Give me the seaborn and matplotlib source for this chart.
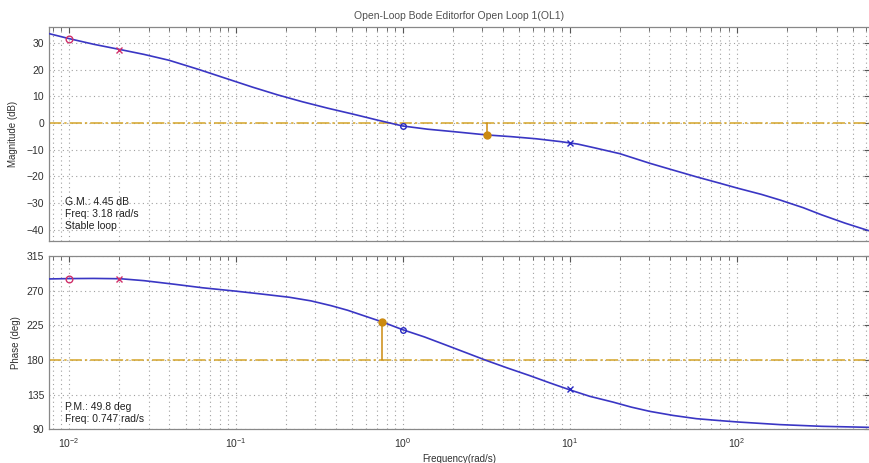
import numpy as np
import pandas as pd
import matplotlib
matplotlib.use("Agg")
import matplotlib.pyplot as plt
import matplotlib.ticker as mticker
import seaborn as sns

# Open-loop frequency response (rad/s, dB)
freq = [0.0075, 0.01, 0.0141, 0.0204, 0.0282, 0.0398, 0.0603, 0.0891, 0.126,
        0.178, 0.251, 0.355, 0.501, 0.708, 1.0, 1.41, 2.0, 3.18, 4.47, 6.31,
        8.91, 11.2, 14.1, 20.0, 30.2, 39.8, 57.5, 79.4, 102, 141, 182, 251,
        324, 447, 617]
mag_db = [33.7, 31.75, 29.6, 27.6, 25.8, 23.6, 20.1, 16.6, 13.5,
          10.6, 8.0, 5.6, 3.4, 1.1, -1.1, -2.3, -3.2, -4.45, -5.1, -5.9,
          -7.0, -7.9, -9.3, -11.5, -15.1, -17.3, -20.2, -22.6, -24.5, -26.8, -28.9, -31.8,
          -34.5, -37.6, -40.4]

# Open-loop phase (rad/s, deg)
phase_freq = [0.0075, 0.01, 0.0141, 0.0204, 0.0282, 0.0427, 0.0631, 0.1, 0.141,
              0.209, 0.282, 0.372, 0.468, 0.569, 0.747, 1.0, 1.35, 1.81, 2.40,
              3.18, 4.27, 5.74, 7.59, 9.86, 13.2, 18.2, 23.4, 30.2, 41.7, 57.5,
              79.4, 102, 182, 324, 617]
phase_deg = [285.2, 285.7, 285.9, 285.5, 283.0, 278.4, 273.8, 269.4, 265.8,
             261.5, 256.8, 250.6, 244.6, 238.4, 229.8, 219.4, 210.0, 199.6, 189.5,
             179.4, 169.5, 160.0, 150.5, 141.9, 133.0, 125.5, 119.0, 113.5, 108.2, 104.0,
             101.5, 99.7, 96.3, 94.1, 92.8]

# Compensator pole/zero markers
pz_freq = [0.01, 0.02, 1.0, 10.0]
pz_mag = [31.75, 27.6, -1.1, -7.4]
pz_phase = [285.7, 285.7, 219.4, 141.9]
pz_marker = ["o", "x", "o", "x"]
pz_color = ["#d0306a", "#d0306a", "#2828c0", "#2828c0"]
pz_size = [4.8, 4.2, 4.0, 4.2]

# Stability margins
gm_db = 4.45
gm_freq = 3.18
pm_deg = 49.8
pm_freq = 0.747

mag_ticks = [-40, -30, -20, -10, 0, 10, 20, 30]
phase_ticks = [90, 135, 180, 225, 270, 315]

sns.set_style("white")
plt.rcParams["font.family"] = ["Liberation Sans", "DejaVu Sans"]
plt.rcParams["mathtext.fontset"] = "custom"
plt.rcParams["mathtext.rm"] = "Liberation Sans"
plt.rcParams["mathtext.it"] = "Liberation Sans"

curve_color = "#3a36c4"
margin_color = "#cc8a10"
line_color = "#d4a428"
text_color = "#303030"
grid_kw = dict(color="#a0a0a0", linestyle=(0, (1, 3)), linewidth=0.8)

fig = plt.figure(figsize=(8.7, 4.63), dpi=100)
ax_m = fig.add_axes([0.0563, 0.4795, 0.9437, 0.4622])
ax_p = fig.add_axes([0.0563, 0.0724, 0.9437, 0.3747], sharex=ax_m)

df_m = pd.DataFrame({"freq": freq, "mag": mag_db})
df_p = pd.DataFrame({"freq": phase_freq, "phase": phase_deg})

sns.lineplot(data=df_m, x="freq", y="mag", ax=ax_m, color=curve_color, lw=1.2, zorder=3)
sns.lineplot(data=df_p, x="freq", y="phase", ax=ax_p, color=curve_color, lw=1.2, zorder=3)

for ax in (ax_m, ax_p):
    ax.set_xscale("log")
    ax.set_xlim(0.0076, 630)
    ax.set_xlabel("")
    ax.grid(True, which="major", axis="both", **grid_kw)
    ax.grid(True, which="minor", axis="x", **grid_kw)
    ax.tick_params(which="both", direction="in", top=True, right=True,
                   labelsize=7.5, colors="#555555", labelcolor=text_color)
    ax.tick_params(which="major", length=4)
    ax.tick_params(which="minor", length=3)
    for s in ax.spines.values():
        s.set_color("#888888")
        s.set_linewidth(0.9)

# reference lines: 0 dB and 180 deg
ax_m.axhline(0, color=line_color, lw=1.1, ls=(0, (8, 2, 1.5, 2)), zorder=2)
ax_p.axhline(180, color=line_color, lw=1.1, ls=(0, (8, 2, 1.5, 2)), zorder=2)

# gain margin stem and marker
ax_m.plot([gm_freq, gm_freq], [0, -gm_db], color=margin_color, lw=1.1, zorder=4)
ax_m.plot([gm_freq], [-gm_db], "o", color=margin_color, ms=5, zorder=5)
# phase margin stem and marker
ax_p.plot([pm_freq, pm_freq], [180, 180 + pm_deg], color=margin_color, lw=1.1, zorder=4)
ax_p.plot([pm_freq], [180 + pm_deg], "o", color=margin_color, ms=5, zorder=5)

for f, m, p, mk, c, sz in zip(pz_freq, pz_mag, pz_phase, pz_marker, pz_color, pz_size):
    kw = dict(marker=mk, ms=sz, mew=1.0, ls="none", zorder=6)
    if mk == "o":
        kw.update(mfc="none", mec=c)
    else:
        kw.update(color=c)
    ax_m.plot([f], [m], **kw)
    ax_p.plot([f], [p], **kw)

ax_m.set_ylim(-44.3, 36.1)
ax_m.set_yticks(mag_ticks)
ax_p.set_ylim(90, 315)
ax_p.set_yticks(phase_ticks)

ax_m.tick_params(labelbottom=False)
ax_p.xaxis.set_major_locator(mticker.LogLocator(base=10, numticks=10))
ax_p.xaxis.set_major_formatter(mticker.FuncFormatter(
    lambda v, _: r"$10^{%d}$" % int(round(np.log10(v)))))
ax_p.xaxis.set_minor_locator(mticker.LogLocator(base=10, subs=np.arange(2, 10), numticks=20))
ax_p.xaxis.set_minor_formatter(mticker.NullFormatter())
ax_p.tick_params(axis="x", labelsize=7.5, pad=5)

ax_m.set_ylabel("Magnitude (dB)", fontsize=7, color=text_color, labelpad=6)
ax_p.set_ylabel("Phase (deg)", fontsize=7, color=text_color, labelpad=4)
ax_p.set_xlabel("Frequency(rad/s)", fontsize=7, color=text_color, labelpad=3)
ax_m.set_title("Open-Loop Bode Editorfor Open Loop 1(OL1)", fontsize=7.5,
               color="#505050", pad=6)

ax_m.text(0.02, 0.045, "G.M.: %.2f dB\nFreq: %.2f rad/s\nStable loop" % (gm_db, gm_freq),
          transform=ax_m.transAxes, fontsize=7.5, color="#202020",
          va="bottom", ha="left", linespacing=1.25)
ax_p.text(0.02, 0.03, "P.M.: %.1f deg\nFreq: %.3f rad/s" % (pm_deg, pm_freq),
          transform=ax_p.transAxes, fontsize=7.5, color="#202020",
          va="bottom", ha="left", linespacing=1.25)

fig.savefig("out.png", dpi=100)
